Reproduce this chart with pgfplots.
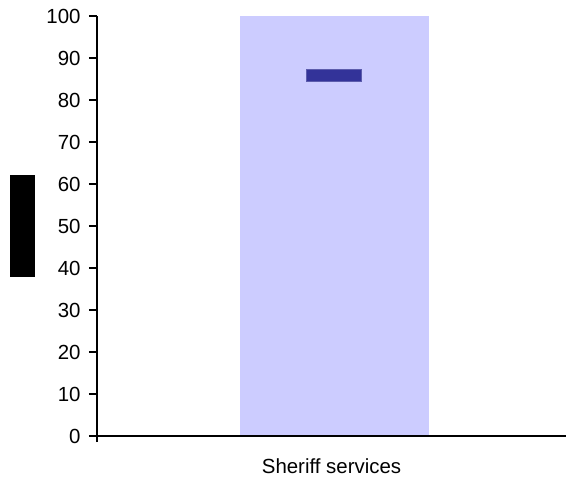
\documentclass[border=0pt]{standalone}
\usepackage{pgfplots}
\pgfplotsset{compat=1.18}
\usepackage{fontspec}
\setmainfont{Liberation Sans}
\usetikzlibrary{calc}
\definecolor{lightbar}{HTML}{CCCCFF}
\definecolor{darkbar}{HTML}{333399}
\begin{document}
\fontsize{20.5}{24}\selectfont
\begin{tikzpicture}
\begin{axis}[
  scale only axis, width=469bp, height=420bp,
  xmin=-1, xmax=1, ymin=0, ymax=100,
  axis lines=left, axis line style={-, line width=1.4bp},
  axis on top,
  ytick={0,10,...,100},
  xtick={0}, xticklabels={Sheriff services},
  tick align=outside,
  /pgf/number format/assume math mode=true,
  tick label style={font=\fontsize{20.5}{24}\selectfont},
  ytick style={line width=1.4bp, black},
  major tick length=8bp,
  yticklabel style={xshift=-1.5bp},
  xtick style={draw=none},
  extra x ticks={-1}, extra x tick labels={},
  extra x tick style={xtick style={draw=black, line width=1.4bp}, major tick length=6bp},
  xticklabel style={anchor=base, yshift=-29bp},
]
\addplot[fill=lightbar, draw=none] coordinates {(-0.390,0) (0.416,0) (0.416,100) (-0.390,100)} -- cycle;
\addplot[fill=darkbar, draw=darkbar!80, line width=0.5bp] coordinates {(-0.106,84.4) (0.126,84.4) (0.126,87.3) (-0.106,87.3)} -- cycle;
\end{axis}
\node[fill=black, minimum width=25bp, minimum height=102bp, inner sep=0pt] at ($(current axis.west)+(-74.5bp,0)$) {};
\pgfresetboundingbox
\path ($(current axis.south west)+(-97bp,-41bp)$) rectangle ($(current axis.north east)+(0bp,16bp)$);
\end{tikzpicture}
\end{document}
